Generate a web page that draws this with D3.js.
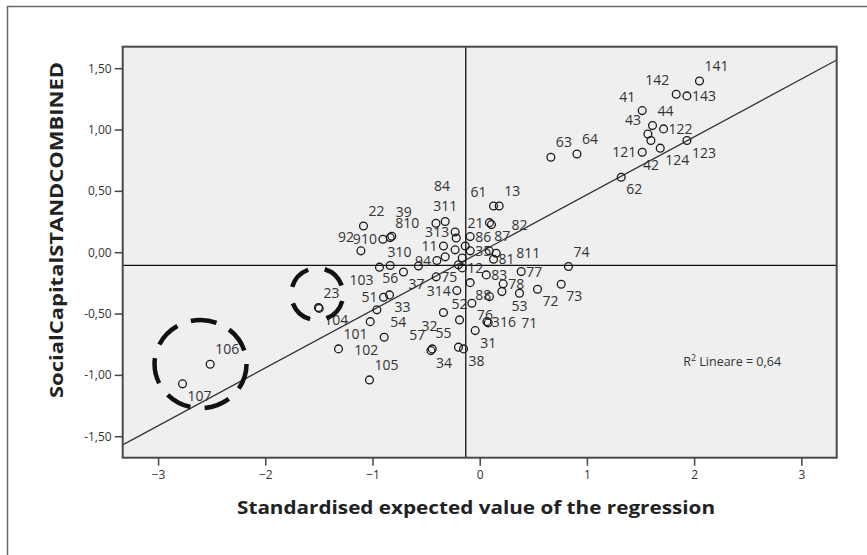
<!DOCTYPE html>
<html>
<head>
<meta charset="utf-8">
<script src="https://cdn.jsdelivr.net/npm/d3@7"></script>
<style>
    body { margin: 0; background: #fff; }
    svg { display: block; }
</style>
</head>
<body>
<svg id="chart" width="867" height="555"></svg>
<script>
// Case labels (null = label hidden by SPSS)
var caseIds = ["141", "142", "143", "41", "44", "122", "43", "42", "124", "121",
    "123", "62", "63", "64", "61", "13", "21", "82", "86", "87",
    "35", "81", "811", "74", "77", "12", "83", "88", null, null,
    "78", "53", "72", "73", "76", "316", "71", "31", "38", "34",
    "57", "55", "52", "32", "314", "75", "37", "310", "94", "11",
    "103", "56", "51", "33", null, "54", "102", "101", "105", "23",
    "104", "106", "107", "22", "92", "910", "810", "39", "311", "84",
    "313", null, null, null, null, null, null];

// Standardised expected value of the regression (x)
var predicted = [2.050, 1.833, 1.933, 1.516, 1.612, 1.715, 1.569, 1.597, 1.684, 1.516,
    1.933, 1.320, 0.664, 0.907, 0.129, 0.182, 0.091, 0.110, -0.089, 0.089,
    -0.089, 0.129, 0.154, 0.828, 0.387, -0.163, 0.061, -0.089, 0.091, 0.207,
    0.219, 0.371, 0.539, 0.760, -0.073, 0.067, 0.079, -0.042, -0.151, -0.455,
    -0.443, -0.198, -0.188, -0.338, -0.213, -0.406, -0.711, -0.571, -0.399, -0.338,
    -0.935, -0.835, -0.897, -0.841, -0.959, -1.021, -0.891, -1.317, -1.028, -1.504,
    -1.497, -2.514, -2.772, -1.084, -1.108, -0.903, -0.835, -0.820, -0.322, -0.408,
    -0.229, -0.219, -0.229, -0.135, -0.322, -0.163, -0.198];

// SocialCapitalSTANDCOMBINED (y)
var socialCapital = [1.396, 1.288, 1.274, 1.154, 1.032, 1.005, 0.964, 0.910, 0.848, 0.815,
    0.910, 0.611, 0.774, 0.801, 0.377, 0.377, 0.241, 0.225, 0.127, 0.011,
    0.011, -0.057, -0.008, -0.117, -0.158, -0.128, -0.185, -0.248, -0.362, -0.321,
    -0.258, -0.334, -0.302, -0.261, -0.416, -0.566, -0.576, -0.639, -0.788, -0.802,
    -0.788, -0.774, -0.552, -0.492, -0.313, -0.201, -0.161, -0.112, -0.068, 0.051,
    -0.122, -0.108, -0.367, -0.348, -0.470, -0.566, -0.693, -0.788, -1.041, -0.451,
    -0.458, -0.913, -1.073, 0.214, 0.011, 0.106, 0.119, 0.130, 0.250, 0.236,
    0.165, 0.116, 0.019, 0.051, -0.038, -0.047, -0.103];

// Side of the point where SPSS put the label
var labelSide = ["ne", "nw", "e", "nw", "ne", "e", "nw", "ss", "se", "w",
    "se", "se", "ne", "ne", "nw", "ne", "w", "e2", "e", "ne",
    "e", "e", "e2", "ne", "e", "e", "e", "se", "", "",
    "e", "s", "se", "se", "se", "e", "e3", "se", "se", "se",
    "nw", "nw", "n", "sw", "w", "e", "se", "nw", "w", "w",
    "sw", "s", "w", "se", "", "e2", "sw", "ne", "ne", "ne",
    "se", "ne", "se", "ne", "nw", "w", "ne", "ne2", "n", "nn",
    "w", "", "", "", "", "", ""];

var xTicks = [-3, -2, -1, 0, 1, 2, 3];
var yTicks = [1.5, 1, 0.5, 0, -0.5, -1, -1.5];

var fitSlope = 0.471, fitIntercept = -0.002;
var meanX = -0.13, meanY = -0.108;
var rSquaredText = "0,64";

window.addEventListener("load", function () {
    drawChart();
});

function drawChart() {
    var svg = d3.select("#chart");
    var margin = { top: 46.7, left: 122.7 },
        width = 714,
        height = 411;

    var points = caseIds.map(function (id, i) {
        return { id: id, x: predicted[i], y: socialCapital[i], side: labelSide[i] };
    });

    var x = d3.scaleLinear().domain([-3.33, 3.33]).range([0, width]),
        y = d3.scaleLinear().domain([-1.675, 1.675]).range([height, 0]);

    // Outer frame of the output viewer
    svg.append("rect")
        .attr("x", 7.5).attr("y", 6.5)
        .attr("width", 900).attr("height", 600)
        .attr("fill", "none")
        .attr("stroke", "#6a6a6a")
        .attr("stroke-width", 1.5);

    var g = svg.append("g")
        .attr("transform", "translate(" + margin.left + "," + margin.top + ")");

    svg.append("clipPath").attr("id", "plotClip")
        .append("rect").attr("width", width).attr("height", height);

    g.append("rect")
        .attr("width", width).attr("height", height)
        .attr("fill", "#efefef");

    var inner = g.append("g").attr("clip-path", "url(#plotClip)");

    // Mean reference lines
    inner.append("line")
        .attr("x1", x(meanX)).attr("x2", x(meanX))
        .attr("y1", 0).attr("y2", height)
        .attr("stroke", "#111").attr("stroke-width", 1.3);
    inner.append("line")
        .attr("x1", 0).attr("x2", width)
        .attr("y1", y(meanY)).attr("y2", y(meanY))
        .attr("stroke", "#111").attr("stroke-width", 1.3);

    // Linear fit
    var xd = x.domain();
    inner.append("line")
        .attr("x1", x(xd[0])).attr("y1", y(fitIntercept + fitSlope * xd[0]))
        .attr("x2", x(xd[1])).attr("y2", y(fitIntercept + fitSlope * xd[1]))
        .attr("stroke", "#333").attr("stroke-width", 1.3);

    inner.selectAll(".dot")
        .data(points)
        .enter().append("circle")
        .attr("class", "dot")
        .attr("cx", function (d) { return x(d.x); })
        .attr("cy", function (d) { return y(d.y); })
        .attr("r", 3.9)
        .attr("fill", "none")
        .attr("stroke", "#1a1a1a")
        .attr("stroke-width", 1.3);

    var offsets = {
        e: [5, 5, "start"], e2: [20, 5, "start"], e3: [33, 5, "start"],
        w: [-6, 5, "end"],
        n: [0, -11, "middle"], nn: [6, -32, "middle"],
        ne: [5, -10, "start"], ne2: [4, -19, "start"],
        nw: [-7, -9, "end"],
        s: [0, 18, "middle"], ss: [0, 29, "middle"],
        se: [5, 17, "start"], sw: [-6, 18, "end"]
    };

    inner.selectAll(".caseLabel")
        .data(points.filter(function (d) { return d.id; }))
        .enter().append("text")
        .attr("class", "caseLabel")
        .attr("x", function (d) { return x(d.x) + offsets[d.side][0]; })
        .attr("y", function (d) { return y(d.y) + offsets[d.side][1]; })
        .attr("text-anchor", function (d) { return offsets[d.side][2]; })
        .style("font-family", "'Open Sans', sans-serif")
        .style("font-size", "14px")
        .attr("fill", "#333")
        .text(function (d) { return d.id; });

    // Plot border
    g.append("rect")
        .attr("width", width).attr("height", height)
        .attr("fill", "none")
        .attr("stroke", "#4a4a4a")
        .attr("stroke-width", 2);

    var fmt = function (d) { return d.toFixed(2).replace(".", ","); };

    var yAxis = g.append("g")
        .call(d3.axisLeft(y).tickValues(yTicks).tickSize(8).tickPadding(3).tickFormat(fmt));
    var xAxis = g.append("g")
        .attr("transform", "translate(0," + height + ")")
        .call(d3.axisBottom(x).tickValues(xTicks).tickSize(8).tickPadding(5).tickFormat(d3.format("d")));

    [xAxis, yAxis].forEach(function (a) {
        a.select(".domain").remove();
        a.selectAll(".tick line").attr("stroke", "#444").attr("stroke-width", 1.5);
        a.selectAll(".tick text")
            .attr("fill", "#333")
            .style("font-family", "'Open Sans', sans-serif")
            .style("font-size", "12px");
    });

    // Axis titles
    svg.append("text")
        .attr("x", 476).attr("y", 514)
        .attr("text-anchor", "middle")
        .attr("textLength", 478)
        .attr("lengthAdjust", "spacingAndGlyphs")
        .style("font-family", "'Open Sans', sans-serif")
        .style("font-weight", "bold")
        .style("font-size", "17px")
        .attr("fill", "#222")
        .text("Standardised expected value of the regression");

    svg.append("text")
        .attr("transform", "translate(63,230) rotate(-90)")
        .attr("text-anchor", "middle")
        .attr("textLength", 336)
        .attr("lengthAdjust", "spacingAndGlyphs")
        .style("font-family", "'Open Sans', sans-serif")
        .style("font-weight", "bold")
        .style("font-size", "17px")
        .attr("fill", "#222")
        .text("SocialCapitalSTANDCOMBINED");

    // R squared note
    var r2 = g.append("text")
        .attr("x", x(1.898)).attr("y", y(-0.927))
        .style("font-family", "'Open Sans', sans-serif")
        .style("font-size", "12.5px")
        .attr("fill", "#333");
    r2.append("tspan").text("R");
    r2.append("tspan").attr("dy", -5).style("font-size", "9px").text("2");
    r2.append("tspan").attr("dy", 5).text(" Lineare = " + rSquaredText);

    // Hand-drawn dashed rings around the highlighted cases
    g.append("ellipse")
        .attr("cx", x(-2.604)).attr("cy", y(-0.912))
        .attr("rx", 46).attr("ry", 44)
        .attr("fill", "none")
        .attr("stroke", "#111")
        .attr("stroke-width", 4.5)
        .attr("stroke-dasharray", "26,14.4");
    g.append("ellipse")
        .attr("cx", x(-1.516)).attr("cy", y(-0.342))
        .attr("rx", 26).attr("ry", 26)
        .attr("fill", "none")
        .attr("stroke", "#111")
        .attr("stroke-width", 4.5)
        .attr("stroke-dasharray", "24,16.8")
        .attr("stroke-dashoffset", -7);
}
</script>
</body>
</html>
